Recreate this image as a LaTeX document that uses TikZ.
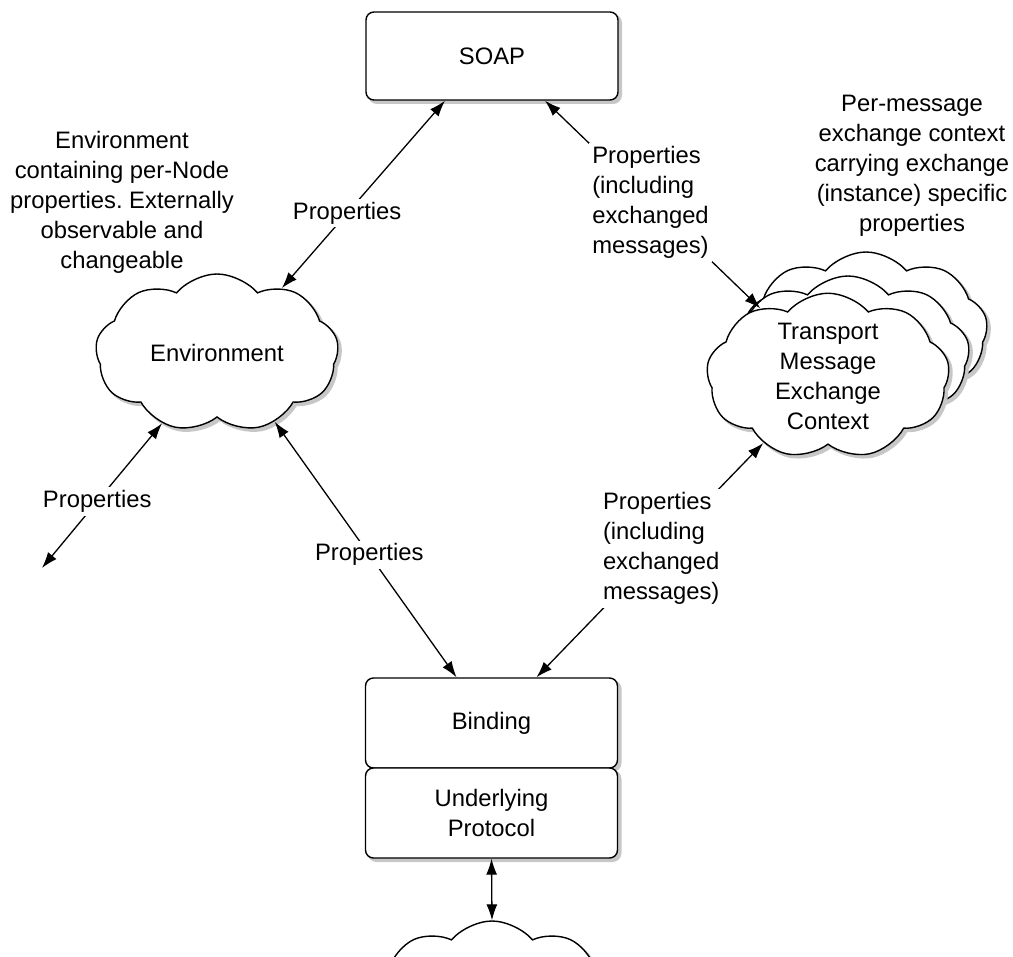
\documentclass[tikz,border=0pt]{standalone}
\usepackage{fontspec}
\setmainfont{Liberation Sans}
\usetikzlibrary{shapes.symbols,arrows.meta}
\frenchspacing
\tikzstyle{shadowr}=[preaction={draw=black!22,fill=black!22,line width=2pt,transform canvas={xshift=3pt,yshift=-3pt}}]
\tikzstyle{boxr}=[draw,rounded corners=8pt,fill=white,line width=1.4pt,minimum width=252pt,align=center,shadowr]
\tikzstyle{cloudr}=[draw,cloud,cloud puffs=9,cloud puff arc=100,cloud ignores aspect,fill=white,line width=1.4pt,minimum width=243pt,minimum height=158pt,inner sep=0pt,align=center,shadowr]
\tikzstyle{labelr}=[fill=white,inner sep=3pt,align=left]
\tikzstyle{link}=[{Latex[length=16pt,width=11pt]}-{Latex[length=16pt,width=11pt]},line width=1.3pt]

\begin{document}
\begin{tikzpicture}[x=1pt,y=-1pt,font=\fontsize{23.8}{30}\selectfont]
    \useasboundingbox (0,0) rectangle (1013,957);
    \node[boxr,minimum height=88pt] (soap) at (492,56) {SOAP};
    \node[boxr,minimum height=90pt] (bind) at (491.5,723) {Binding};
    \node[boxr,minimum height=90pt] (proto) at (491.5,813) {Underlying\\Protocol};
    \node[cloudr] (env) at (217,353) {Environment};
    \node[cloudr] (mex3) at (866,331) {};
    \node[cloudr] (mex2) at (848,355) {};
    \node[cloudr] (mex) at (828,376) {Transport\\Message\\Exchange\\Context};
    \node[cloudr] (wire) at (492,1000) {};
    \coordinate (envfree) at (42,568);

    \node[align=center] (envnote) at (122,202) {Environment\\containing per-Node\\properties. Externally\\observable and\\changeable};
    \node[align=center] (mexnote) at (912,166) {Per-message\\exchange context\\carrying exchange\\(instance) specific\\properties};

    \draw[link] ([xshift=-47pt]soap.south) -- node[labelr,pos=0.6] {Properties} (env.45);
    \draw[link] ([xshift=53pt]soap.south) -- node[labelr,pos=0.49] {Properties\\(including\\exchanged\\messages)} (mex.135);
    \draw[link] (env.232) -- node[labelr,pos=0.54] {Properties} (envfree);
    \draw[link] (env.310) -- node[labelr,pos=0.52] {Properties} ([xshift=-35pt]bind.north);
    \draw[link] (mex.226) -- node[labelr,pos=0.45] {Properties\\(including\\exchanged\\messages)} ([xshift=45pt]bind.north);
    \draw[link] (proto.south) -- (wire.north);
\end{tikzpicture}
\end{document}
